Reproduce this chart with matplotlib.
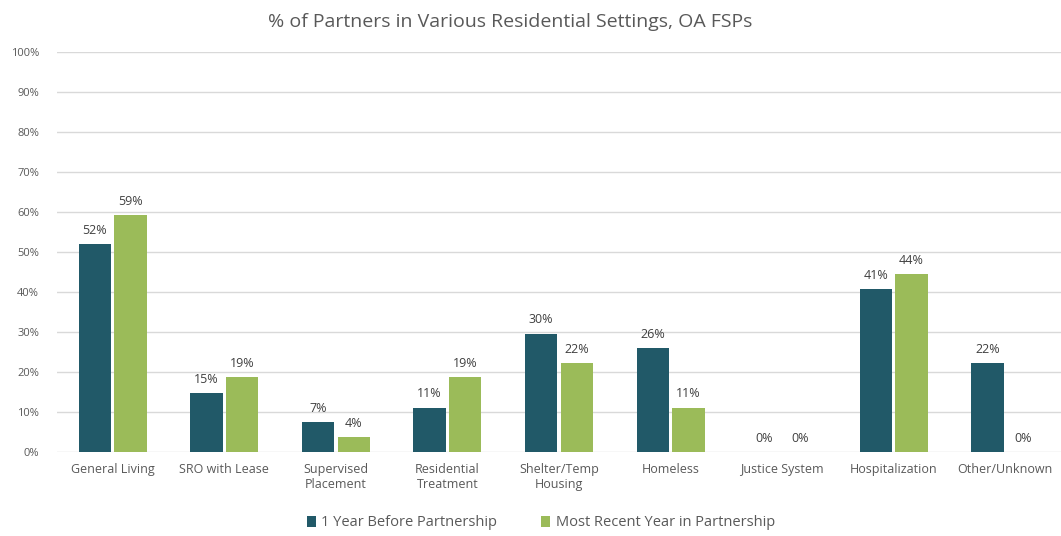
import numpy as np
import matplotlib.pyplot as plt
from matplotlib.ticker import PercentFormatter

categories = ['General Living', 'SRO with Lease', 'Supervised\nPlacement', 'Residential\nTreatment',
              'Shelter/Temp\nHousing', 'Homeless', 'Justice System', 'Hospitalization', 'Other/Unknown']
before = [51.9, 14.8, 7.4, 11.1, 29.6, 25.9, 0.0, 40.7, 22.2]
recent = [59.3, 18.8, 3.7, 18.8, 22.2, 11.1, 0.0, 44.4, 0.0]
series_names = ['1 Year Before Partnership', 'Most Recent Year in Partnership']

plt.rcParams['font.family'] = ['Open Sans', 'DejaVu Sans']
dark = '#215968'
green = '#9BBB59'
txt = '#595959'

fig = plt.figure(figsize=(10.61, 5.36), dpi=100)
ax = fig.add_axes([57 / 1061, 84 / 536, 1 - 57 / 1061, 400 / 536])

x = np.arange(len(categories))
w = 0.29
b1 = ax.bar(x - w / 2 - 0.015, before, w, color=dark, label=series_names[0], zorder=3)
b2 = ax.bar(x + w / 2 + 0.015, recent, w, color=green, label=series_names[1], zorder=3)

for bars, vals in [(b1, before), (b2, recent)]:
    for rect, v in zip(bars, vals):
        ax.text(rect.get_x() + rect.get_width() / 2, v + 1.8, f'{round(v)}%',
                ha='center', va='bottom', fontsize=9, color='#404040')

ax.set_xlim(-0.5, len(categories) - 0.5)
ax.set_ylim(0, 100)
ax.set_yticks(range(0, 101, 10))
ax.yaxis.set_major_formatter(PercentFormatter(decimals=0))
ax.set_xticks(x)
ax.set_xticklabels(categories, fontsize=9, color=txt, va='top', linespacing=1.2)
ax.tick_params(axis='y', labelsize=8, labelcolor=txt, length=0, pad=13)
ax.tick_params(axis='x', length=0, pad=8)
ax.grid(axis='y', color='#D9D9D9', linewidth=1, zorder=0)
for s in ax.spines.values():
    s.set_visible(False)

fig.text(510 / 1061, 1 - 22 / 536, '% of Partners in Various Residential Settings, OA FSPs',
         ha='center', va='center', fontsize=14, color=txt)
fig.legend(loc='center', bbox_to_anchor=(541 / 1061, 1 - 523 / 536), ncol=2, frameon=False,
           fontsize=10.5, labelcolor=txt, handlelength=0.6, handleheight=0.7,
           handletextpad=0.4, columnspacing=3)

fig.savefig('out.png', dpi=100, facecolor='white')
